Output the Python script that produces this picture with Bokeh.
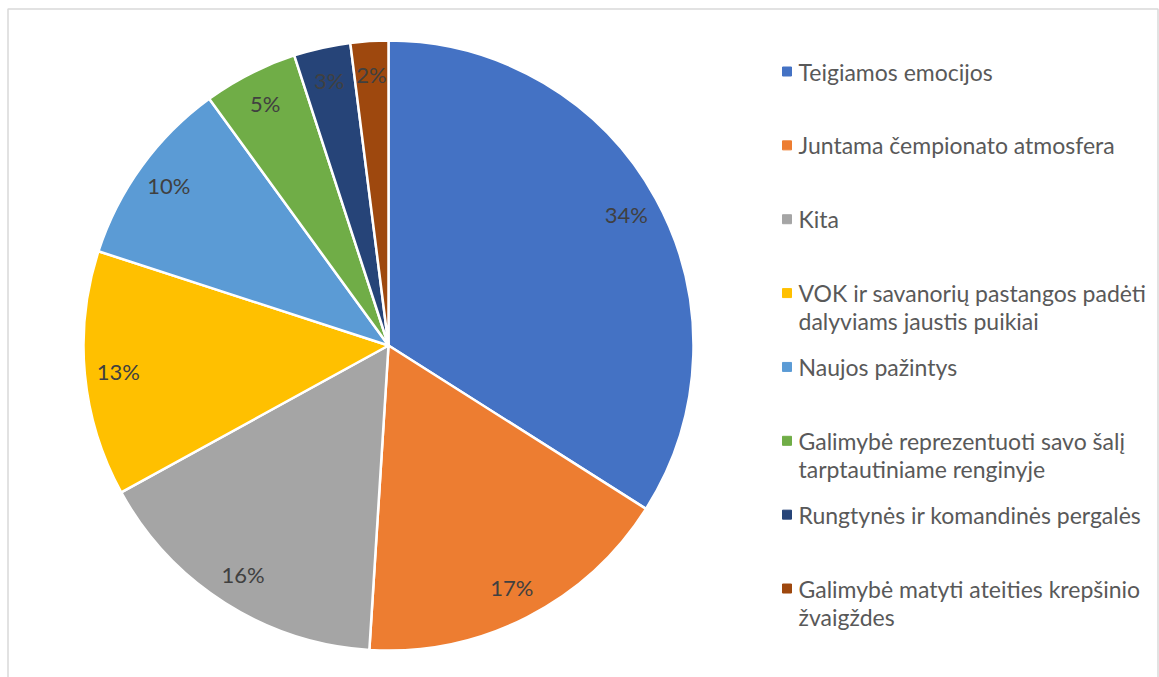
import math
from bokeh.plotting import figure
from bokeh.models import Range1d, ColumnDataSource
from bokeh.core.properties import value
from bokeh.embed import file_html
from bokeh.resources import INLINE

categories = [
    "Teigiamos emocijos",
    "Juntama čempionato atmosfera",
    "Kita",
    "VOK ir savanorių pastangos padėti\ndalyviams jaustis puikiai",
    "Naujos pažintys",
    "Galimybė reprezentuoti savo šalį\ntarptautiniame renginyje",
    "Rungtynės ir komandinės pergalės",
    "Galimybė matyti ateities krepšinio\nžvaigždes",
]
values = [34, 17, 16, 13, 10, 5, 3, 2]
colors = ["#4472C4", "#ED7D31", "#A5A5A5", "#FFC000", "#5B9BD5", "#70AD47", "#264478", "#9E480E"]

W, H = 1159, 677
FONT = "Lato"

p = figure(width=W, height=H, output_backend="svg", toolbar_location=None,
           x_range=Range1d(0, W), y_range=Range1d(0, H),
           x_axis_type=None, y_axis_type=None, min_border=0)
p.grid.visible = False
p.outline_line_color = None

# chart area border
p.quad(left=[7.5], right=[1157.5], top=[H - 8.5], bottom=[-20],
       fill_color=None, line_color="#D9D9D9", line_width=1.5)

cx, cy, R = 388, H - 345, 305
total = sum(values)
starts, ends, lx, ly, labels = [], [], [], [], []
cum = 0
for v in values:
    a0 = math.pi / 2 - cum / total * 2 * math.pi
    cum += v
    a1 = math.pi / 2 - cum / total * 2 * math.pi
    starts.append(a0)
    ends.append(a1)
    mid = (a0 + a1) / 2
    lx.append(cx + 0.89 * R * math.cos(mid))
    ly.append(cy + 0.89 * R * math.sin(mid))
    labels.append(f"{v}%")

src = ColumnDataSource(dict(start=starts, end=ends, color=colors, lx=lx, ly=ly, label=labels))
p.wedge(x=cx, y=cy, radius=R, start_angle="start", end_angle="end", direction="clock",
        fill_color="color", line_color="white", line_width=2.5, source=src)
p.text(x="lx", y="ly", text="label", source=src, text_align="center", text_baseline="middle",
       text_font=value(FONT), text_font_size="22px", text_color="#404040")

# legend
sx, tx = 786.5, 798
y0, step, lh = H - 71, 73.86, 28
mx, my, mc = [], [], []
tx_l, ty_l, tt = [], [], []
for i, (c, col) in enumerate(zip(categories, colors)):
    yy = y0 - i * step
    mx.append(sx); my.append(yy); mc.append(col)
    for j, line in enumerate(c.split("\n")):
        tx_l.append(tx); ty_l.append(yy - j * lh); tt.append(line)
p.scatter(x=mx, y=my, marker="square", size=9, fill_color=mc, line_color=mc)
p.text(x=tx_l, y=ty_l, text=tt, text_align="left", text_baseline="middle",
       text_font=value(FONT), text_font_size="23px", text_color="#595959")

open("out.html", "w").write(file_html(p, INLINE))
